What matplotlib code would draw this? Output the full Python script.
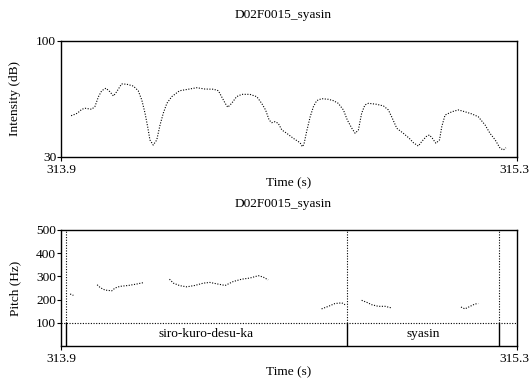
import numpy as np
import matplotlib
matplotlib.use('Agg')
import matplotlib.pyplot as plt
import matplotlib.transforms as mtransforms

plt.rcParams['font.family'] = ['Liberation Serif', 'DejaVu Serif']

title = 'D02F0015_syasin'
t_min, t_max = 313.9, 315.3

# intensity contour (s, dB)
int_time = [313.931, 313.943, 313.950, 313.964, 313.974, 313.994, 314.004, 314.015,
            314.025, 314.038, 314.050, 314.061, 314.071, 314.086, 314.102, 314.122,
            314.137, 314.148, 314.158, 314.166, 314.173, 314.183, 314.194, 314.204,
            314.214, 314.225, 314.240, 314.260, 314.265, 314.291, 314.317, 314.342,
            314.368, 314.383, 314.393, 314.404, 314.412, 314.424, 314.439, 314.455,
            314.480, 314.501, 314.516, 314.528, 314.539, 314.547, 314.557, 314.567,
            314.578, 314.593, 314.613, 314.634, 314.641, 314.646, 314.654, 314.665,
            314.675, 314.685, 314.700, 314.721, 314.736, 314.751, 314.767, 314.779,
            314.793, 314.803, 314.813, 314.823, 314.833, 314.844, 314.869, 314.890,
            314.905, 314.915, 314.931, 314.951, 314.969, 314.982, 314.997, 315.007,
            315.021, 315.031, 315.040, 315.051, 315.062, 315.069, 315.079, 315.100,
            315.120, 315.140, 315.161, 315.181, 315.202, 315.217, 315.233, 315.248,
            315.258, 315.266]
int_db = [54.9, 55.8, 56.4, 58.8, 59.4, 58.8, 60.4, 66.4,
          70.0, 71.5, 69.4, 66.8, 69.4, 74.1, 73.9, 72.8,
          70.0, 64.4, 56.4, 48.3, 40.3, 37.2, 40.3, 49.3,
          56.4, 62.4, 66.4, 69.4, 70.0, 70.9, 71.8, 71.0,
          70.9, 70.0, 66.4, 62.4, 60.0, 62.4, 66.4, 67.8,
          67.8, 66.4, 62.4, 58.4, 52.3, 50.7, 51.3, 50.3,
          46.3, 44.3, 41.3, 38.6, 36.2, 37.8, 45.3, 54.3,
          60.4, 64.0, 65.2, 64.8, 64.0, 62.4, 58.4, 52.3,
          47.3, 44.3, 46.3, 56.4, 61.4, 62.4, 61.8, 60.8,
          58.4, 54.3, 47.3, 44.3, 41.3, 38.6, 36.6, 39.2,
          42.3, 43.3, 41.3, 38.3, 40.3, 48.3, 55.3, 57.3,
          58.4, 57.3, 56.0, 54.3, 49.3, 44.3, 40.3, 35.3,
          34.2, 35.6]

# pitch contour, one list per voiced stretch (s, Hz)
pitch_time = [
    [313.928, 313.934, 313.938],
    [314.011, 314.020, 314.035, 314.056, 314.066, 314.081, 314.107, 314.132, 314.156],
    [314.233, 314.245, 314.265, 314.286, 314.311, 314.337, 314.357, 314.378, 314.404,
     314.429, 314.455, 314.480, 314.506, 314.521, 314.536],
    [314.700, 314.721, 314.741, 314.762, 314.772],
    [314.823, 314.839, 314.854, 314.874, 314.895, 314.915],
    [315.128, 315.140, 315.156, 315.171, 315.181],
]
pitch_hz = [
    [224, 221, 218],
    [264, 252, 241, 238, 250, 257, 261, 267, 274],
    [288, 271, 260, 255, 261, 271, 274, 268, 261, 278, 288, 293, 303, 297, 285],
    [160, 171, 183, 186, 178],
    [197, 188, 178, 171, 171, 164],
    [168, 160, 171, 181, 183],
]

# text grid tier
bounds = [313.914, 314.779, 315.244]
words = ['siro-kuro-desu-ka', 'syasin']

fs = 9.6
dot = (0, (1, 1.4))

fig = plt.figure(figsize=(5.3, 3.83), dpi=100)
ax1 = fig.add_axes([0.1151, 0.5901, 0.8604, 0.3029])
ax2 = fig.add_axes([0.1151, 0.0966, 0.8604, 0.3029])

# intensity
ax1.plot(int_time, int_db, color='black', lw=0.8, linestyle=dot)
ax1.set_xlim(t_min, t_max)
ax1.set_ylim(30, 100)
ax1.set_yticks([30, 100])
ax1.set_yticklabels(['30', '100'])
ax1.set_xticks([t_min, t_max])
ax1.set_xticklabels(['313.9', '315.3'])
ax1.set_ylabel('Intensity (dB)', fontsize=fs)
ax1.set_xlabel('Time (s)', fontsize=fs, labelpad=1)

# pitch
for tt, hh in zip(pitch_time, pitch_hz):
    ax2.plot(tt, hh, color='black', lw=0.8, linestyle=dot)
ax2.axhline(100, color='black', lw=0.8, linestyle=dot)
for b in bounds:
    ax2.plot([b, b], [0, 100], color='black', lw=1.0)
    ax2.plot([b, b], [100, 500], color='black', lw=0.8, linestyle=dot)
for i in range(len(words)):
    ax2.text((bounds[i] + bounds[i + 1]) / 2, 50, words[i], ha='center', va='center', fontsize=fs)
ax2.set_xlim(t_min, t_max)
ax2.set_ylim(0, 500)
ax2.set_yticks([100, 200, 300, 400, 500])
ax2.set_xticks([t_min, t_max])
ax2.set_xticklabels(['313.9', '315.3'])
ax2.set_ylabel('Pitch (Hz)', fontsize=fs)
ax2.set_xlabel('Time (s)', fontsize=fs, labelpad=1)

# nudge right-hand time label so it stays inside the figure
shift = mtransforms.ScaledTranslation(-3 / 100, 0, fig.dpi_scale_trans)
for ax in [ax1, ax2]:
    ax.tick_params(labelsize=fs, length=3, width=0.8)
    ax.tick_params(axis='x', pad=2)
    ax.tick_params(axis='y', pad=0.5)
    ax.yaxis.set_label_coords(-0.088, 0.5)
    for s in ax.spines.values():
        s.set_linewidth(1.0)
    lab = ax.get_xticklabels()[-1]
    lab.set_transform(lab.get_transform() + shift)

fig.text(283 / 530, 1 - 15 / 383, title, ha='center', va='center', fontsize=fs)
fig.text(283 / 530, 1 - 204 / 383, title, ha='center', va='center', fontsize=fs)

fig.savefig('out.png', dpi=100)
